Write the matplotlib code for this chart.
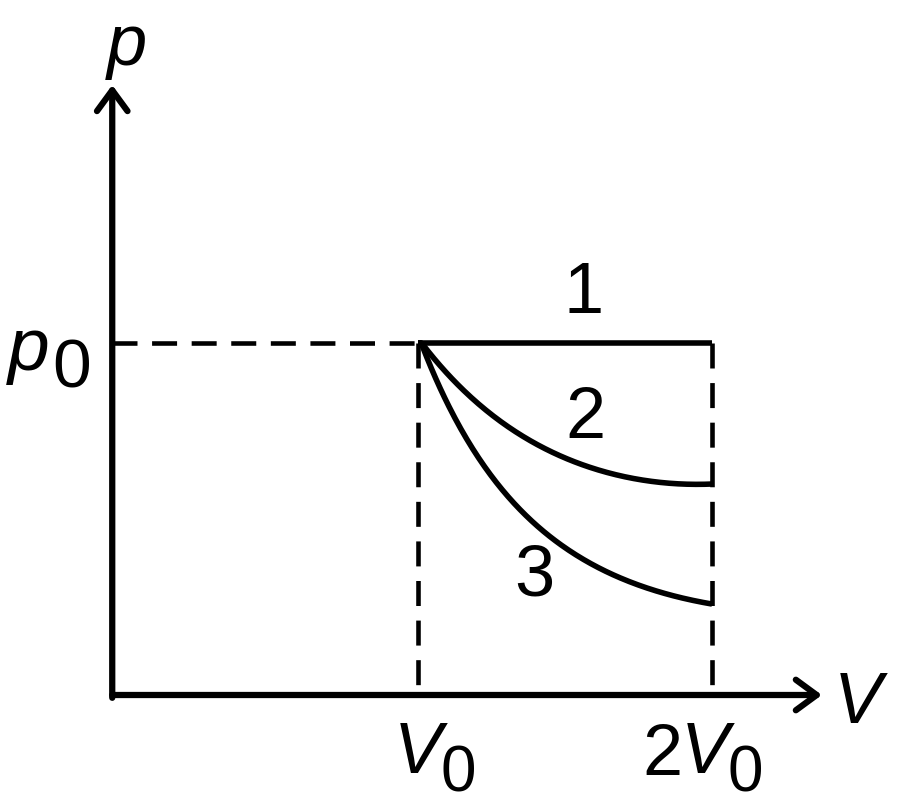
import numpy as np
import matplotlib
matplotlib.use("Agg")
import matplotlib.pyplot as plt

plt.rcParams['font.family'] = ['Liberation Sans', 'DejaVu Sans']
plt.rcParams['lines.scale_dashes'] = False

# states (V in units of V0, p in units of p0)
V0 = 1.0
V1 = 2.0
p0 = 1.0

# process 2 and 3
V_2 = [1.0, 1.167, 1.279, 1.391, 1.507, 1.619, 1.731, 1.847, 2.0]
p_2 = [1.0, 0.875, 0.781, 0.716, 0.668, 0.634, 0.614, 0.602, 0.602]
V_3 = [1.0, 1.109, 1.221, 1.337, 1.449, 1.561, 1.677, 1.789, 2.0]
p_3 = [1.0, 0.830, 0.668, 0.534, 0.449, 0.384, 0.335, 0.298, 0.261]


# smooth least-squares curve through the read points (in log p)
def smooth(xs, ys, deg=2, n=200):
    x = np.asarray(xs); y = np.log(np.asarray(ys))
    coef = np.polyfit(x, y, deg)
    t = np.linspace(x[0], x[-1], n)
    return t, np.minimum(np.exp(np.polyval(coef, t)), ys[0])


fig = plt.figure(figsize=(9, 8.1), dpi=100)
ax = fig.add_axes([0, 0, 1, 1])
# pixel mapping: V0 at x=418, 2V0 at x=712; origin y=695, p0 at y=343
ax.set_xlim(-124 / 294, (900 - 124) / 294)
ax.set_ylim(-115 / 352, 695 / 352)
ax.axis('off')

ox, oy = -0.04, 0.0   # where the axes cross
x_tip, y_tip = 2.374, 1.733

arrow = dict(arrowstyle='->,head_length=0.75,head_width=0.55', lw=4.5,
             color='black', shrinkA=0, shrinkB=0, mutation_scale=20)
ax.annotate('', xy=(x_tip, oy), xytext=(ox, oy), arrowprops=arrow)
ax.annotate('', xy=(ox, y_tip), xytext=(ox, oy - 0.008), arrowprops=arrow)

dash = dict(color='black', lw=3.3, dashes=(18, 10.5))
ax.plot([ox, V0], [p0, p0], **dash)
ax.plot([V0, V0], [p0, oy], **dash)
ax.plot([V1, V1], [p0, oy], **dash)

ax.plot([V0, V1], [p0, p0], color='black', lw=4, solid_capstyle='butt')
for vs, ps in [(V_2, p_2), (V_3, p_3)]:
    t, y = smooth(vs, ps)
    ax.plot(t, y, color='black', lw=4, solid_capstyle='butt')

def px(x, y):
    return (x - 124) / 294, (695 - y) / 352

fs = 52
sub = 46
txt = dict(ha='center', va='baseline', color='black')
ax.text(*px(127, 65), 'p', fontsize=fs, style='italic', **txt)
ax.text(*px(29, 370), 'p', fontsize=fs + 2, style='italic', **txt)
ax.text(*px(72, 388), '0', fontsize=sub + 4, **txt)
ax.text(*px(858, 723), 'V', fontsize=fs, style='italic', **txt)
ax.text(*px(418, 773), 'V', fontsize=fs, style='italic', **txt)
ax.text(*px(458, 792), '0', fontsize=sub, **txt)
ax.text(*px(662, 775), '2', fontsize=fs, **txt)
ax.text(*px(705, 773), 'V', fontsize=fs, style='italic', **txt)
ax.text(*px(745, 792), '0', fontsize=sub, **txt)

ax.text(*px(584, 313), '1', fontsize=fs, **txt)
ax.text(*px(585, 438), '2', fontsize=fs, **txt)
ax.text(*px(534, 595), '3', fontsize=fs, **txt)

fig.savefig('out.png', dpi=100)
